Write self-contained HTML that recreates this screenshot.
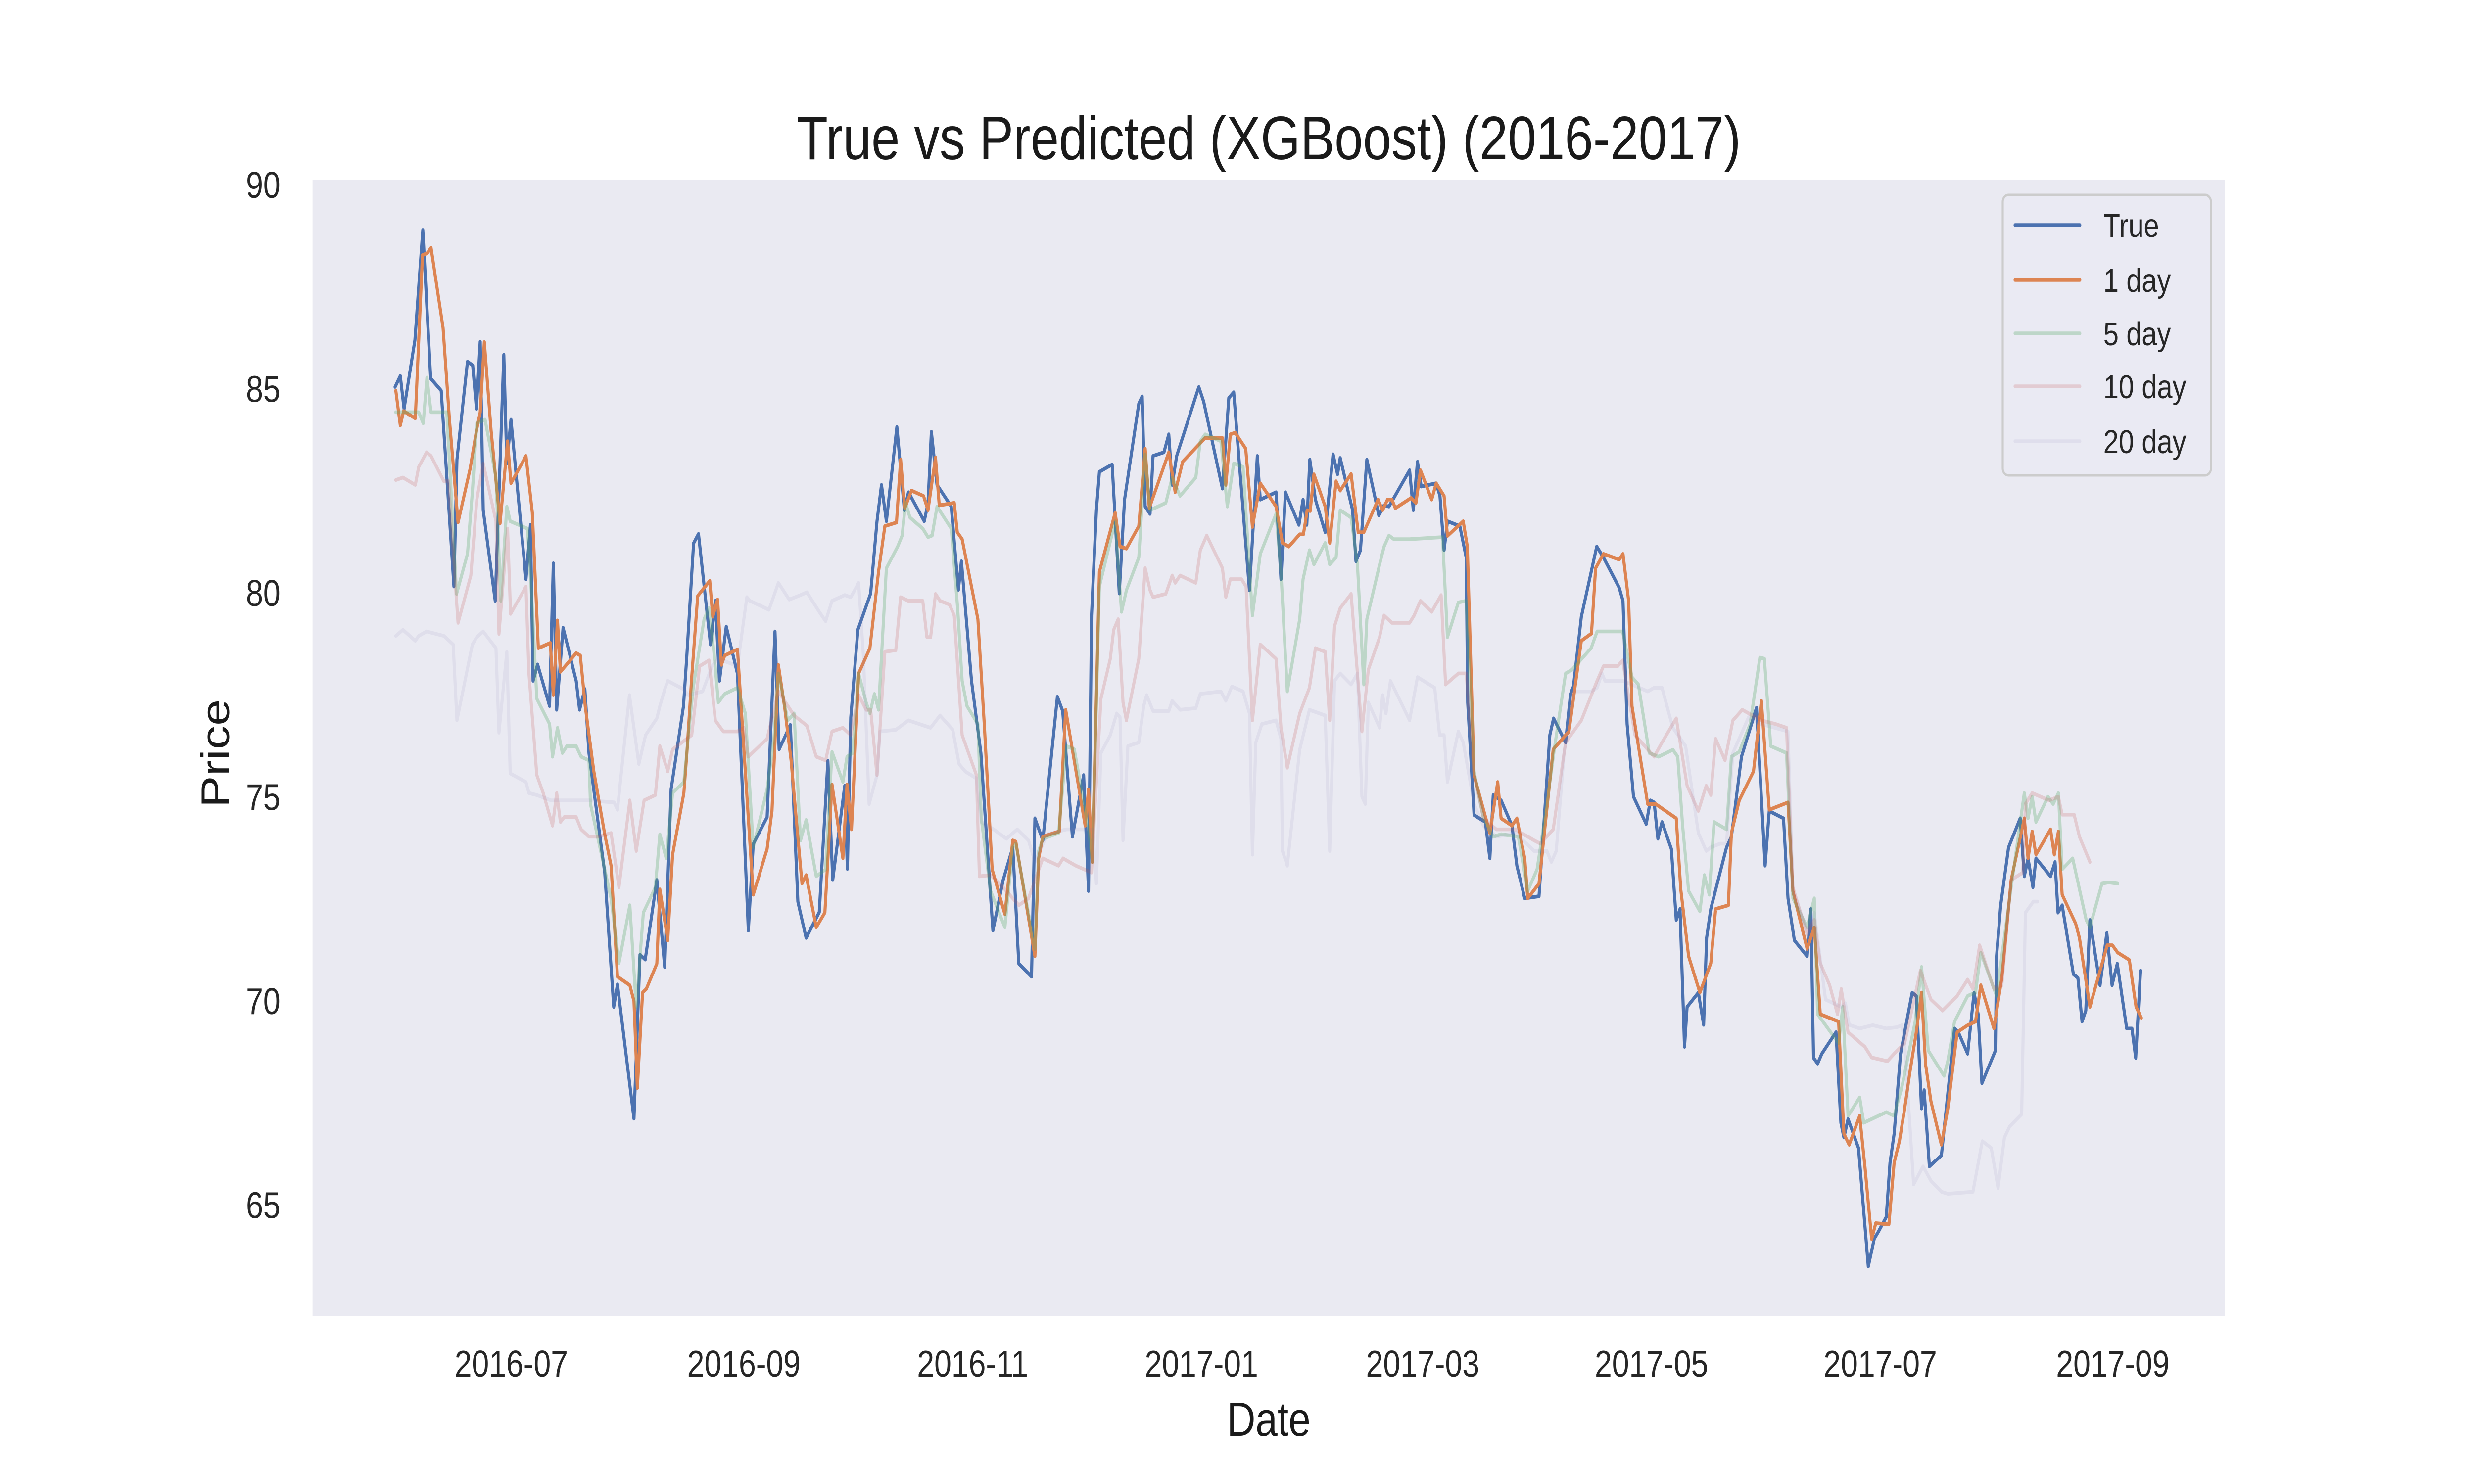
<!DOCTYPE html>
<html><head><meta charset="utf-8">
<style>
html,body{margin:0;padding:0;background:#fff;overflow:hidden;width:100%;height:100%;}
svg{display:block;font-family:"Liberation Sans",Arial,sans-serif;width:100vw;height:100vh;}
</style></head>
<body>
<svg id="chart" viewBox="0 0 6000 3000" preserveAspectRatio="none" xmlns="http://www.w3.org/2000/svg">
<rect x="0" y="0" width="6000" height="3000" fill="#ffffff"/>
<rect x="758" y="364" width="4638" height="2296" fill="#eaeaf2"/>
<g id="series"></g>
<g id="yticks"></g>
<g id="xticks"></g>
<text x="3077" y="322" font-size="124" text-anchor="middle" fill="#1a1a1a">True vs Predicted (XGBoost) (2016-2017)</text>
<text x="3077" y="2902" font-size="96" text-anchor="middle" fill="#1a1a1a">Date</text>
<text x="0" y="0" font-size="96" text-anchor="middle" fill="#1a1a1a" transform="translate(555,1523) rotate(-90)">Price</text>
<g id="legend">
<rect x="4857" y="394" width="505" height="567" rx="14" fill="#eaeaf2" fill-opacity="0.8" stroke="#cccccc" stroke-width="5"/>
</g>
</svg>
<script>
// ---- data (day offsets from 2016-05-31, price values) ----
const tickDays = [31, 93, 154, 215, 274, 335, 396, 458];
const tickLabels = ["2016-07","2016-09","2016-11","2017-01","2017-03","2017-05","2017-07","2017-09"];
const yTickValues = [65, 70, 75, 80, 85, 90];
const seriesNames = ["True","1 day","5 day","10 day","20 day"];

const trueDays = [0,1.4,2.4,5.3,7.4,9.5,12.3,15.7,16.5,19.3,20.7,21.7,22.7,23.5,26.7,29.0,29.8,30.9,34.9,36.1,36.8,38.0,41.2,42.2,43.1,44.8,48.3,49.2,50.6,51.7,55.9,58.3,59.3,63.7,65.3,66.7,69.8,71.9,73.6,76.9,77.8,79.6,80.9,84.1,85.4,86.5,88.3,91.3,94.2,95.5,99.2,101.3,102.4,105.4,107.4,109.6,113.1,115.4,116.7,119.9,120.6,121.5,123.4,126.8,128.5,129.7,131.0,133.8,135.8,136.9,141.1,142.1,143.0,144.5,148.3,150.2,151.0,153.7,156.2,159.4,162.1,164.7,166.3,169.7,170.6,172.7,176.6,178.0,180.6,183.6,184.9,185.7,187.0,187.8,191.2,193.1,194.5,198.3,199.2,200.0,201.3,202.1,205.0,206.3,207.2,208.4,214.3,215.6,220.6,222.3,223.6,227.8,229.9,230.7,234.9,236.2,237.4,241.0,242.1,243.1,243.9,245.4,248.0,250.1,251.3,252.0,255.3,256.2,257.4,259.1,262.3,263.7,265.0,270.5,271.5,272.6,273.6,277.6,278.6,279.7,280.6,283.9,285.6,286.0,287.7,290.7,291.9,292.8,294.9,297.8,299.1,301.2,305.0,307.9,308.9,312.1,313.4,314.2,316.3,320.4,322.2,326.4,327.4,328.5,330.2,333.6,334.7,335.7,336.7,337.8,340.3,341.6,342.6,343.8,344.5,347.5,348.9,349.7,350.8,355.0,356.3,359.0,363.0,365.3,366.4,370.2,371.4,373.1,376.5,377.5,378.2,379.3,380.4,384.2,385.5,386.3,387.4,390.2,392.8,394.4,395.5,397.6,398.6,399.7,401.4,404.5,405.6,407.0,407.7,409.1,412.3,415.8,416.8,419.3,421.0,422.1,423.1,426.7,427.0,428.1,430.2,433.3,434.4,435.4,436.7,437.5,441.4,442.6,443.4,444.5,447.5,448.7,449.8,450.8,451.9,454.6,456.4,457.8,459.2,461.7,463.1,464.1,465.4];
const trueVals = [85.04,85.31,84.50,86.19,88.89,85.25,84.95,80.15,83.26,85.66,85.57,84.50,86.15,82.02,79.80,85.83,83.17,84.24,80.33,81.66,77.84,78.24,77.22,80.72,77.13,79.14,77.84,77.13,77.64,76.06,73.14,69.85,70.40,67.11,71.13,71.01,72.96,70.82,75.18,77.22,78.47,81.21,81.44,78.73,79.80,77.84,79.17,78.01,71.72,73.84,74.50,79.05,76.16,76.76,72.43,71.54,72.17,75.88,72.96,75.27,73.23,76.94,79.09,79.98,81.75,82.64,81.75,84.06,82.02,82.46,81.75,82.19,83.94,82.64,82.11,80.07,80.77,77.84,76.07,71.72,72.95,73.76,70.91,70.59,74.47,73.93,77.45,77.10,74.02,75.53,72.69,79.44,82.02,82.96,83.14,79.98,82.28,84.63,84.81,82.11,81.93,83.35,83.44,83.88,82.64,83.35,85.04,84.68,82.55,84.77,84.91,80.06,83.35,82.28,82.46,80.33,82.46,81.66,82.28,81.66,83.26,82.28,81.48,83.39,82.90,83.30,82.02,80.77,81.04,83.26,81.89,82.14,82.11,83.00,82.02,83.21,82.60,82.68,82.37,81.04,81.75,81.63,80.86,77.31,74.55,74.38,73.49,75.04,74.91,74.29,73.31,72.51,72.56,76.51,76.92,76.33,77.52,77.70,79.41,81.13,80.86,80.12,79.80,76.78,75.00,74.33,74.91,74.86,73.97,74.38,73.72,71.98,72.25,68.87,69.85,70.20,69.41,71.54,72.25,73.76,74.02,75.98,77.18,73.31,74.65,74.47,72.51,71.48,71.09,72.25,68.60,68.46,68.70,69.23,67.01,66.65,67.10,66.39,63.49,64.17,64.34,64.70,66.03,66.74,68.70,70.20,70.12,67.36,67.81,65.94,66.21,69.32,69.23,68.70,70.20,69.67,67.98,68.78,71.09,72.34,73.76,74.47,73.05,73.49,72.78,73.49,73.05,73.40,72.16,72.34,70.65,70.56,69.49,69.76,71.98,70.38,71.66,70.38,70.91,69.32,69.32,68.60,70.74];

const day1Days = [0.2,1.4,2.3,5.4,7.3,8.6,9.6,12.8,14.5,16.8,20.0,21.7,22.7,23.8,25.6,28.0,30.0,30.9,34.9,36.6,38.2,41.4,42.2,43.3,44.1,48.3,49.4,50.7,53.0,55.9,57.6,59.3,62.6,63.7,64.6,66.0,67.0,69.8,70.6,72.7,74.0,77.0,77.8,79.1,80.7,83.9,84.7,86.0,87.0,87.9,91.3,95.5,99.2,100.5,102.2,103.9,105.6,108.5,109.6,112.3,114.6,116.5,119.4,120.5,121.7,123.6,126.6,128.9,130.6,133.7,134.8,135.9,137.7,140.9,142.1,144.1,145.1,149.1,149.9,151.2,155.4,157.1,159.2,162.6,164.7,165.5,170.6,171.6,172.7,177.1,178.8,184.0,184.9,185.9,187.8,192.0,193.3,195.0,198.3,200.0,201.1,206.3,208.0,210.0,216.0,220.6,221.5,222.7,224.0,226.8,228.6,230.7,234.9,236.6,238.3,241.2,242.2,243.2,244.0,245.0,248.0,249.2,250.9,252.0,254.9,256.8,258.3,262.1,263.3,264.6,265.8,266.7,270.9,272.2,273.4,276.4,277.6,279.7,280.6,284.8,285.9,287.7,291.9,294.0,294.9,297.8,299.1,301.2,302.0,305.0,308.8,313.0,316.3,319.0,320.1,322.2,326.4,327.4,328.9,329.8,334.0,336.1,341.6,342.8,344.9,347.9,350.8,352.1,355.5,356.3,358.4,362.2,364.3,366.4,371.4,372.7,376.5,378.4,380.0,384.9,386.3,387.7,390.5,391.9,393.7,394.8,398.3,399.7,401.1,402.5,403.9,405.6,407.0,408.1,409.5,412.3,414.0,416.5,419.3,421.4,422.8,426.3,428.4,430.9,434.4,435.4,436.5,437.5,441.4,442.4,443.5,444.5,448.1,449.1,451.9,456.5,457.9,459.3,462.4,464.2,465.6];
const day1Vals = [84.95,84.10,84.45,84.27,88.27,88.32,88.45,86.49,84.24,81.72,83.03,83.97,84.42,86.14,83.97,81.70,83.71,82.68,83.35,81.96,78.64,78.77,77.49,79.32,78.06,78.52,78.46,77.22,75.62,74.08,73.31,70.59,70.38,69.99,67.86,70.20,70.29,70.91,72.73,71.48,73.58,75.09,76.07,77.93,79.92,80.29,79.41,79.83,78.23,78.46,78.61,72.60,73.72,74.65,78.23,77.17,75.89,72.87,73.08,71.80,72.16,75.30,73.49,75.30,74.20,78.02,78.64,80.51,81.63,81.72,83.26,82.07,82.50,82.37,82.02,83.31,82.14,82.20,81.48,81.31,79.35,76.78,73.22,72.12,73.93,73.90,71.09,73.49,74.02,74.15,77.13,74.29,75.18,73.40,80.51,81.96,81.13,81.08,81.63,83.53,82.07,83.44,82.46,83.21,83.79,83.79,82.64,83.88,83.92,83.53,81.61,82.68,82.11,81.22,81.13,81.43,81.43,82.02,82.00,82.90,82.11,81.22,82.73,82.50,82.91,81.48,81.48,82.28,82.02,82.28,82.28,82.07,82.32,82.20,83.00,82.28,82.68,82.37,81.39,81.75,81.13,75.53,74.11,75.36,74.47,74.29,74.47,73.49,72.51,72.87,76.16,76.60,78.82,79.00,80.60,80.95,80.81,80.95,79.80,77.22,74.82,74.82,74.47,72.73,71.09,70.20,70.92,72.25,72.34,74.11,74.91,75.62,77.35,74.68,74.86,72.69,71.27,71.80,69.67,69.49,66.74,66.47,67.18,65.94,64.16,64.55,64.52,66.03,66.56,67.36,68.25,69.23,70.20,68.43,67.54,66.47,67.36,69.23,69.40,69.49,70.38,69.32,70.56,72.96,74.47,73.49,74.15,73.58,74.20,73.58,74.15,72.60,71.89,71.54,69.85,71.36,71.36,71.18,71.00,69.85,69.58];

const day5Days = [0.2,6.3,7.5,8.5,9.6,13.8,16.4,19.3,20.6,21.8,24.0,26.9,28.2,29.8,30.7,35.3,36.6,37.8,41.2,42.0,43.3,44.6,45.8,48.3,49.6,51.7,52.1,55.9,57.6,59.7,62.6,64.3,66.2,69.4,70.6,72.3,74.0,77.0,79.5,82.4,83.7,85.0,86.2,87.9,91.3,93.4,95.5,99.2,101.0,102.2,104.7,106.4,108.1,109.6,112.3,114.8,116.5,119.4,120.5,122.0,123.6,125.6,126.6,127.8,128.9,131.0,134.0,135.2,136.1,137.3,140.7,142.1,143.2,144.5,148.3,150.0,151.2,152.5,155.4,156.3,158.8,162.6,164.7,165.5,170.6,171.6,172.7,176.9,179.0,181.1,184.9,185.9,187.8,192.0,193.7,195.0,198.3,200.0,201.3,205.5,207.2,209.3,213.5,214.7,216.0,220.2,221.9,223.6,226.1,228.6,230.7,234.9,236.2,237.9,241.2,242.1,243.8,245.0,248.0,249.2,250.9,252.0,254.9,256.6,258.3,259.1,262.5,263.7,265.0,266.3,270.5,279.3,280.6,283.5,285.6,287.7,290.2,292.8,294.9,299.5,302.0,304.5,307.1,309.2,312.1,313.8,318.9,320.5,327.3,329.8,331.5,334.4,336.9,340.7,342.0,343.3,344.9,347.9,349.1,350.4,351.7,355.0,356.3,358.4,361.3,363.9,365.1,366.8,371.0,372.7,376.5,378.4,379.3,384.9,386.0,387.4,390.5,391.6,393.7,397.6,399.7,401.8,405.3,407.0,408.8,413.0,414.0,415.8,419.3,421.4,422.8,427.0,428.4,430.9,434.4,435.4,436.5,437.5,440.7,442.1,443.5,444.5,447.3,450.9,451.9,455.1,456.9,459.3];
const day5Vals = [84.42,84.42,84.15,85.27,84.42,84.42,79.97,80.95,82.46,84.15,84.24,82.82,79.80,82.11,81.75,81.57,79.62,77.40,76.78,75.98,76.69,76.07,76.24,76.24,75.98,75.89,74.82,73.22,72.51,70.92,72.34,69.85,72.16,72.78,74.08,73.49,75.09,75.36,77.67,79.35,79.62,78.55,77.31,77.52,77.67,77.04,73.76,75.18,76.42,78.02,76.87,77.04,73.93,74.43,73.05,73.22,76.10,75.36,75.98,76.07,78.02,77.31,77.04,77.52,77.13,80.60,81.13,81.40,82.20,81.84,81.57,81.36,81.40,82.11,81.57,79.62,77.84,77.22,76.78,74.47,72.69,71.80,73.76,73.85,71.27,73.67,73.97,74.11,76.24,76.16,74.20,73.40,80.15,81.75,79.53,80.06,80.86,83.39,82.02,82.20,82.82,82.37,82.82,83.71,83.88,83.71,82.11,83.17,83.08,79.44,80.95,81.93,80.51,77.58,79.35,80.33,81.04,80.69,81.22,80.69,80.86,82.02,81.84,80.69,77.75,79.35,80.69,81.13,81.40,81.31,81.31,81.36,78.91,79.76,79.80,75.62,74.47,74.02,74.08,74.02,72.69,73.22,74.82,76.24,78.02,78.11,78.64,79.05,79.05,77.93,77.75,76.07,75.98,76.15,75.98,74.29,72.69,72.19,73.08,72.60,74.38,74.20,75.98,76.10,76.78,78.41,78.38,76.24,76.07,72.51,71.80,72.51,69.67,68.96,69.85,67.18,67.63,67.01,67.10,67.27,67.18,67.90,69.49,70.83,68.78,68.16,68.52,69.49,70.12,70.20,71.18,70.12,71.09,72.78,75.09,74.47,75.00,74.38,75.00,74.82,75.09,73.22,73.49,71.98,71.80,72.87,72.90,72.87];

const day10Days = [0.2,2.1,5.4,6.3,8.4,9.6,13.0,14.3,16.0,16.8,20.2,21.8,23.5,26.9,27.7,30.0,30.8,34.9,35.7,37.8,39.5,42.0,43.1,44.1,45.1,48.3,49.6,51.7,54.2,57.6,59.7,62.6,64.3,66.4,69.4,70.6,72.7,74.0,77.8,79.1,81.2,83.7,85.4,87.5,91.3,93.0,94.2,99.2,102.2,106.4,109.8,112.3,114.8,116.5,119.4,121.5,123.6,125.6,126.8,128.5,130.6,133.5,134.8,136.9,140.7,141.8,142.8,144.1,145.3,147.8,149.1,151.2,155.0,155.8,158.8,162.1,166.3,168.9,172.7,176.9,178.1,181.5,185.7,188.2,190.7,191.6,192.8,194.1,195.0,198.3,200.0,201.3,202.1,205.5,207.2,208.0,209.3,213.5,214.7,216.4,220.6,221.5,222.7,225.7,226.9,228.6,230.7,234.9,236.2,237.9,241.2,243.8,245.4,248.0,249.2,250.5,252.0,254.9,256.6,257.8,259.5,262.5,263.7,265.8,270.5,271.7,273.4,276.4,278.9,280.1,283.5,285.6,287.7,290.2,293.6,298.7,303.7,305.4,308.8,312.1,316.3,320.5,322.2,326.0,327.3,330.6,335.7,337.8,341.6,344.5,347.5,349.6,350.8,352.1,354.6,356.7,359.2,364.3,368.1,371.0,372.7,376.5,378.4,380.0,382.5,384.6,385.6,387.4,391.9,393.7,397.9,399.7,402.5,406.7,409.5,412.6,416.5,419.3,420.7,422.5,426.3,428.4,430.9,434.0,434.7,436.5,441.0,443.5,444.5,447.7,449.1,451.9];
const day10Vals = [82.76,82.82,82.64,83.08,83.44,83.35,82.73,82.73,80.33,79.26,80.42,82.28,83.17,81.75,78.99,81.57,79.48,80.15,78.02,75.53,75.09,74.29,75.09,74.38,74.50,74.50,74.20,74.02,74.02,74.11,72.78,74.91,73.67,74.91,75.04,76.24,75.62,76.16,76.42,76.51,78.20,78.34,76.87,76.60,76.60,76.69,75.98,76.42,77.58,76.99,76.74,75.98,75.89,76.60,76.69,76.51,77.49,77.13,77.13,75.53,78.55,78.59,79.89,79.80,79.80,78.91,78.91,79.97,79.80,79.71,79.44,76.51,75.53,73.05,73.08,72.78,72.34,72.51,73.49,73.31,73.49,73.31,73.14,77.40,78.38,79.09,79.35,77.31,76.87,78.38,80.60,80.06,79.89,79.97,80.42,80.24,80.42,80.24,81.04,81.40,80.60,79.89,80.33,80.33,80.15,76.87,78.73,78.38,76.69,75.71,77.04,77.67,78.64,78.55,76.87,79.18,79.62,79.97,78.02,76.60,78.11,78.91,79.44,79.26,79.26,79.44,79.80,79.53,79.94,77.75,78.02,78.02,75.53,74.47,74.20,74.20,73.93,73.85,74.20,76.33,76.87,77.84,78.20,78.20,78.34,76.51,75.98,76.33,76.92,75.27,74.65,75.27,75.04,76.42,75.89,76.87,77.13,76.87,76.78,76.69,72.78,71.63,71.98,70.92,70.38,69.67,70.29,69.23,68.87,68.61,68.52,68.70,68.96,70.74,70.03,69.76,70.12,70.52,70.29,71.36,70.29,70.38,72.96,73.14,74.82,75.09,74.91,75.00,74.56,74.56,74.02,73.40];

const day20Days = [0.2,2.1,5.4,6.3,8.4,13.0,15.5,16.5,20.6,21.8,23.5,26.9,27.7,29.8,30.7,34.9,35.7,37.8,41.6,44.1,49.2,51.7,58.4,59.3,62.5,65.0,66.8,69.8,70.6,71.9,72.7,77.0,78.2,82.0,84.5,86.2,91.3,93.8,94.6,99.7,102.2,105.1,108.1,109.8,113.1,114.8,116.5,119.9,121.5,123.6,124.9,126.4,128.5,129.3,133.5,136.9,141.1,142.8,145.3,148.7,150.4,152.0,155.0,156.3,159.6,163.0,165.9,168.9,170.6,173.9,179.0,184.0,186.1,187.0,188.2,190.7,192.4,193.3,194.1,195.4,198.3,199.6,200.4,202.1,206.3,207.2,209.3,213.5,214.7,220.2,221.5,223.1,226.1,227.8,228.6,229.5,231.1,234.9,236.2,236.6,237.9,241.2,243.8,248.0,249.2,250.5,252.0,254.9,256.6,257.8,258.7,259.5,262.5,263.3,264.2,265.4,270.5,272.6,277.2,278.5,279.7,280.6,283.5,284.8,287.7,290.2,293.6,298.7,303.7,307.1,308.3,309.6,311.7,314.2,318.9,320.5,321.8,322.6,327.3,329.8,334.0,335.7,337.8,340.7,344.1,347.5,349.6,350.8,353.3,355.0,356.7,360.9,364.3,371.4,372.7,376.5,378.4,381.4,385.6,386.7,387.7,390.5,394.0,397.6,400.4,401.8,402.5,404.9,407.4,409.5,412.3,414.0,420.7,423.2,425.6,427.4,429.1,430.5,433.7,434.7,436.8,437.9];
const day20Vals = [78.94,79.09,78.82,78.94,79.05,78.94,78.73,76.87,78.73,78.91,79.05,78.64,76.57,78.55,75.57,75.36,75.09,75.04,74.91,74.91,74.91,74.91,74.86,74.68,77.49,75.80,76.51,76.92,77.22,77.63,77.84,77.63,77.49,77.58,78.20,78.38,78.20,79.89,79.80,79.58,80.24,79.83,79.94,80.01,79.53,79.30,79.80,79.94,79.89,80.24,78.41,74.82,75.53,76.60,76.64,76.87,76.74,76.69,76.99,76.64,75.80,75.62,75.45,74.38,74.20,73.97,74.20,73.93,73.40,74.08,74.20,74.20,74.20,72.87,76.07,76.51,77.04,76.95,73.93,76.24,76.33,77.22,77.49,77.10,77.10,77.35,77.13,77.17,77.52,77.58,77.35,77.70,77.58,77.04,73.58,76.33,76.78,76.87,76.42,73.67,73.31,76.15,77.13,76.99,73.67,77.84,78.02,77.75,78.02,75.00,74.82,77.31,76.69,77.49,77.04,77.84,76.87,77.93,77.67,76.51,76.51,75.36,76.60,76.33,74.82,74.29,74.02,74.11,73.67,73.67,73.40,73.67,76.07,77.58,77.58,77.67,78.02,77.84,77.84,77.75,77.58,77.67,77.67,76.69,76.24,74.11,73.67,73.76,73.85,73.85,76.07,76.95,76.78,76.60,72.69,71.71,72.16,70.03,69.85,69.94,69.41,69.32,69.40,69.32,69.35,69.40,68.96,65.50,65.94,65.59,65.32,65.27,65.32,66.56,66.39,65.41,66.65,66.92,67.22,72.16,72.43,72.43];

// ---- axis functions ----
const X0 = 758, X1 = 5396, Y0 = 2660, Y1 = 364;
const dayMin = -22.0, dayMax = 487.9, valMin = 62.28, valMax = 90.11;
function xScale(d){ return X0 + (d - dayMin) / (dayMax - dayMin) * (X1 - X0); }
function yScale(v){ return Y0 - (v - valMin) / (valMax - valMin) * (Y0 - Y1); }

const NS = "http://www.w3.org/2000/svg";
const seriesG = document.getElementById("series");
const styles = [
  {color:"#4c72b0", op:1.0, key:"true"},
  {color:"#dd8452", op:1.0, key:"1-day"},
  {color:"#55a868", op:0.3, key:"5-day"},
  {color:"#c44e52", op:0.2, key:"10-day"},
  {color:"#8172b3", op:0.1, key:"20-day"}
];
const allDays = [trueDays, day1Days, day5Days, day10Days, day20Days];
const allVals = [trueVals, day1Vals, day5Vals, day10Vals, day20Vals];

for (let s = 0; s < 5; s++) {
  const ds = allDays[s], vs = allVals[s];
  const n = Math.min(ds.length, vs.length);
  let pts = [];
  for (let i = 0; i < n; i++) pts.push(xScale(ds[i]).toFixed(1) + "," + yScale(vs[i]).toFixed(1));
  const pl = document.createElementNS(NS, "polyline");
  pl.setAttribute("points", pts.join(" "));
  pl.setAttribute("fill", "none");
  pl.setAttribute("stroke", styles[s].color);
  pl.setAttribute("stroke-opacity", styles[s].op);
  pl.setAttribute("stroke-width", "7.5");
  pl.setAttribute("stroke-linejoin", "round");
  pl.setAttribute("stroke-linecap", "round");
  
  
  seriesG.appendChild(pl);
}

// y ticks
const yg = document.getElementById("yticks");
for (let i = 0; i < yTickValues.length; i++) {
  const t = document.createElementNS(NS, "text");
  t.setAttribute("x", 680);
  t.setAttribute("y", yScale(yTickValues[i]) + 27);
  t.setAttribute("font-size", "75");
  t.setAttribute("text-anchor", "end");
  t.setAttribute("fill", "#262626");
  t.textContent = String(yTickValues[i]);
  
  
  yg.appendChild(t);
}
// x ticks
const xg = document.getElementById("xticks");
for (let i = 0; i < tickDays.length; i++) {
  const t = document.createElementNS(NS, "text");
  t.setAttribute("x", xScale(tickDays[i]));
  t.setAttribute("y", 2783);
  t.setAttribute("font-size", "75");
  t.setAttribute("text-anchor", "middle");
  t.setAttribute("fill", "#262626");
  t.textContent = tickLabels[i];
  
  
  xg.appendChild(t);
}
// legend
const lg = document.getElementById("legend");
const rowY = [455, 566, 674, 781, 892];
for (let i = 0; i < seriesNames.length; i++) {
  const ln = document.createElementNS(NS, "line");
  ln.setAttribute("x1", 4887); ln.setAttribute("x2", 5044);
  ln.setAttribute("y1", rowY[i]); ln.setAttribute("y2", rowY[i]);
  ln.setAttribute("stroke", styles[i].color);
  ln.setAttribute("stroke-opacity", styles[i].op);
  ln.setAttribute("stroke-width", "7.5");
  ln.setAttribute("stroke-linecap", "round");
  
  
  lg.appendChild(ln);
  const t = document.createElementNS(NS, "text");
  t.setAttribute("x", 5101);
  t.setAttribute("y", rowY[i] + 24);
  t.setAttribute("font-size", "67");
  t.setAttribute("fill", "#262626");
  t.textContent = seriesNames[i];
  
  
  lg.appendChild(t);
}
</script>
</body></html>
